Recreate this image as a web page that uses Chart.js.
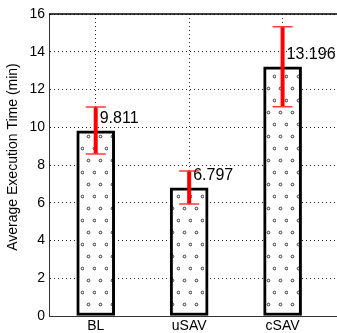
<!DOCTYPE html>
<html><head><meta charset="utf-8">
<script src="https://cdn.jsdelivr.net/npm/chart.js@4/dist/chart.umd.min.js"></script>
<style>html,body{margin:0;padding:0;background:#fff;overflow:hidden}#wrap{width:362px;height:333px;position:relative}</style>
</head><body><div id="wrap"><canvas id="c" width="362" height="333"></canvas></div>
<script>
const categories = ['BL', 'uSAV', 'cSAV'];
const means = [9.811, 6.797, 13.196];
const errLow = [8.58, 5.93, 11.09];
const errHigh = [11.07, 7.68, 15.33];
const yTickValues = [0, 2, 4, 6, 8, 10, 12, 14, 16];
const yTitle = 'Average Execution Time (min)';

const FONT = '"Liberation Sans", Arial, sans-serif';

function makePattern() {
  const c = document.createElement('canvas');
  c.width = 12; c.height = 24;
  const g = c.getContext('2d');
  g.fillStyle = '#fff';
  g.fillRect(0, 0, 12, 24);
  g.strokeStyle = '#333';
  g.lineWidth = 1;
  [[4.5, 16.5], [10.5, 4.5]].forEach(([x, y]) => {
    g.beginPath(); g.arc(x, y, 1.3, 0, Math.PI * 2); g.stroke();
  });
  return document.getElementById('c').getContext('2d').createPattern(c, 'repeat');
}

const extras = {
  id: 'extras',
  beforeDatasetsDraw(chart) {
    const {ctx, chartArea} = chart;
    ctx.save();
    ctx.strokeStyle = '#000';
    ctx.lineWidth = 1.5;
    ctx.beginPath();
    ctx.moveTo(chartArea.left, chartArea.top);
    ctx.lineTo(chartArea.right, chartArea.top);
    ctx.stroke();
    ctx.restore();
  },
  afterDatasetsDraw(chart) {
    const {ctx} = chart;
    const xs = chart.scales.x, ys = chart.scales.y;
    ctx.save();
    means.forEach((m, i) => {
      const x = xs.getPixelForValue(i + 1);
      const yt = ys.getPixelForValue(errHigh[i]);
      const yb = ys.getPixelForValue(errLow[i]);
      ctx.strokeStyle = '#ff0000';
      ctx.lineWidth = 4;
      ctx.beginPath(); ctx.moveTo(x, yt); ctx.lineTo(x, yb); ctx.stroke();
      ctx.strokeStyle = '#ff3a3a';
      ctx.lineWidth = 1.5;
      ctx.beginPath();
      ctx.moveTo(x - 10, yt); ctx.lineTo(x + 10, yt);
      ctx.moveTo(x - 10, yb); ctx.lineTo(x + 10, yb);
      ctx.stroke();
      ctx.fillStyle = '#000';
      ctx.font = '16px ' + FONT;
      ctx.textAlign = 'left';
      ctx.textBaseline = 'middle';
      ctx.fillText(m.toFixed(3), x + 4, ys.getPixelForValue(m) - 12);
    });
    ctx.restore();
  },
  afterDraw(chart) {
    const {ctx, chartArea} = chart;
    ctx.save();
    ctx.translate(13, (chartArea.top + chartArea.bottom) / 2 - 8);
    ctx.rotate(-Math.PI / 2);
    ctx.fillStyle = '#000';
    ctx.font = '14px ' + FONT;
    ctx.textAlign = 'center';
    ctx.textBaseline = 'middle';
    ctx.fillText(yTitle, 0, 0);
    ctx.restore();
  }
};

new Chart(document.getElementById('c'), {
  type: 'bar',
  data: {
    datasets: [{
      data: categories.map((c, i) => ({x: i + 1, y: means[i]})),
      backgroundColor: makePattern(),
      borderColor: '#000',
      borderWidth: 3,
      borderSkipped: false,
      barThickness: 38
    }]
  },
  options: {
    responsive: false,
    animation: false,
    events: [],
    layout: {padding: {top: 14, right: 14, left: 0, bottom: 0}},
    plugins: {legend: {display: false}, tooltip: {enabled: false}},
    scales: {
      x: {
        type: 'linear',
        min: 0.5, max: 3.7,
        offset: false,
        z: 1,
        afterBuildTicks(s) { s.ticks = categories.map((c, i) => ({value: i + 1})); },
        afterFit(s) { s.height = 17; s.paddingLeft = 0; s.paddingRight = 0; },
        ticks: {
          autoSkip: false, maxRotation: 0, padding: 2, color: '#000',
          font: {family: FONT, size: 14},
          callback: (v) => categories[v - 1]
        },
        grid: {offset: false, color: '#222', lineWidth: 1, drawTicks: false, borderDash: [1, 3]},
        border: {display: true, color: '#333', width: 1, dash: [1, 3]}
      },
      y: {
        min: 0, max: 16,
        afterBuildTicks(s) { s.ticks = yTickValues.map(v => ({value: v})); },
        afterFit(s) { s.width = 49; s.paddingTop = 0; s.paddingBottom = 0; },
        ticks: {padding: 4, color: '#000', font: {family: FONT, size: 14}},
        grid: {color: '#222', lineWidth: 1, drawTicks: false, borderDash: [1, 3]},
        border: {display: true, color: '#333', width: 1, dash: [1, 3]},
        title: {display: false}
      }
    }
  },
  plugins: [extras]
});
</script>
</body></html>
